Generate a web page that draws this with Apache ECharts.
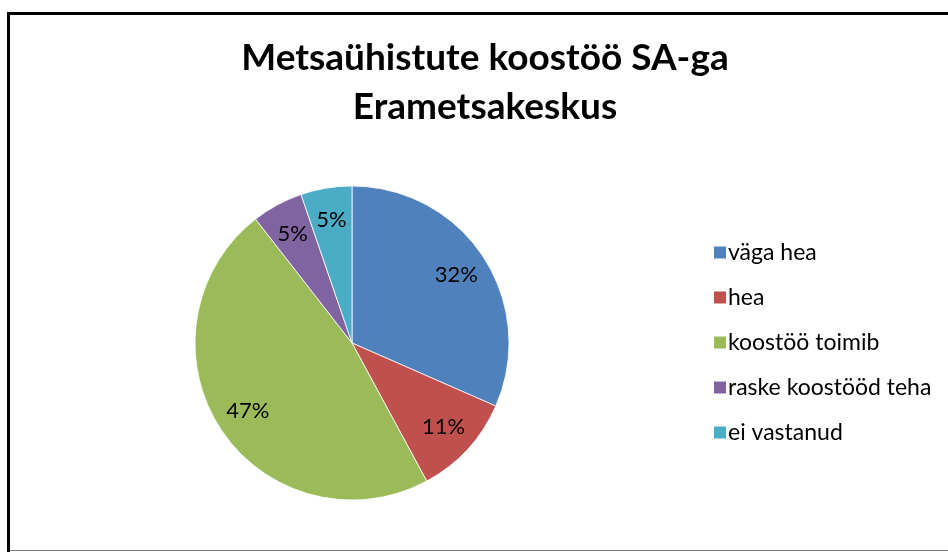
<!DOCTYPE html>
<html>
<head>
<meta charset="utf-8">
<script src="https://cdn.jsdelivr.net/npm/echarts@6/dist/echarts.min.js"></script>
<style>
  html, body { margin: 0; padding: 0; background: #fff; }
  #main { width: 948px; height: 552px; }
</style>
</head>
<body>
<div id="main"></div>
<script>
// andmed (vastuste arv; protsendid arvutab ECharts)
var categories = ['väga hea', 'hea', 'koostöö toimib', 'raske koostööd teha', 'ei vastanud'];
var values = [6, 2, 9, 1, 1];
var colors = ['#4F81BD', '#C0504D', '#9BBB59', '#8064A2', '#4BACC6'];
var titleText = 'Metsaühistute koostöö SA-ga\nErametsakeskus';

var pieData = [];
for (var i = 0; i < categories.length; i++) {
    pieData.push({ name: categories[i], value: values[i] });
}

var myChart = echarts.init(document.getElementById('main'));
var option = {
    backgroundColor: '#fff',
    animation: false,
    color: colors,
    title: {
        text: titleText,
        left: 480,
        top: 29,
        textAlign: 'center',
        textStyle: {
            fontFamily: 'Lato',
            fontWeight: 'bold',
            fontSize: 37,
            lineHeight: 49,
            color: '#000'
        }
    },
    legend: {
        orient: 'vertical',
        left: 707,
        top: 236,
        icon: 'rect',
        itemWidth: 14,
        itemHeight: 14,
        itemGap: 22,
        textStyle: {
            fontFamily: 'Lato',
            fontSize: 23,
            color: '#000',
            padding: [0, 0, 0, -4]
        },
        data: categories
    },
    graphic: [
        { type: 'line', shape: { x1: 8.5, y1: 12, x2: 8.5, y2: 552 }, style: { stroke: '#000', lineWidth: 3 } },
        { type: 'line', shape: { x1: 7, y1: 13.5, x2: 948, y2: 13.5 }, style: { stroke: '#000', lineWidth: 3 } },
        { type: 'line', shape: { x1: 10, y1: 550.5, x2: 948, y2: 550.5 }, style: { stroke: '#777', lineWidth: 1 } }
    ],
    series: [
        {
            name: 'koostöö',
            type: 'pie',
            center: [352, 343],
            radius: [0, 157],
            startAngle: 90,
            clockwise: true,
            silent: true,
            label: { show: false },
            labelLine: { show: false },
            itemStyle: { borderColor: '#fff', borderWidth: 0.8 },
            data: pieData
        },
        {
            // nähtamatu kiht, et sildid oleksid välisserva lähedal
            name: 'sildid',
            type: 'pie',
            center: [352, 343],
            radius: [86, 157],
            startAngle: 90,
            clockwise: true,
            silent: true,
            percentPrecision: 0,
            itemStyle: { color: 'rgba(0,0,0,0)', borderWidth: 0 },
            label: {
                show: true,
                position: 'inside',
                formatter: '{d}%',
                fontFamily: 'Lato',
                fontSize: 22,
                color: '#000'
            },
            labelLine: { show: false },
            data: pieData
        }
    ]
};
myChart.setOption(option);
</script>
</body>
</html>
